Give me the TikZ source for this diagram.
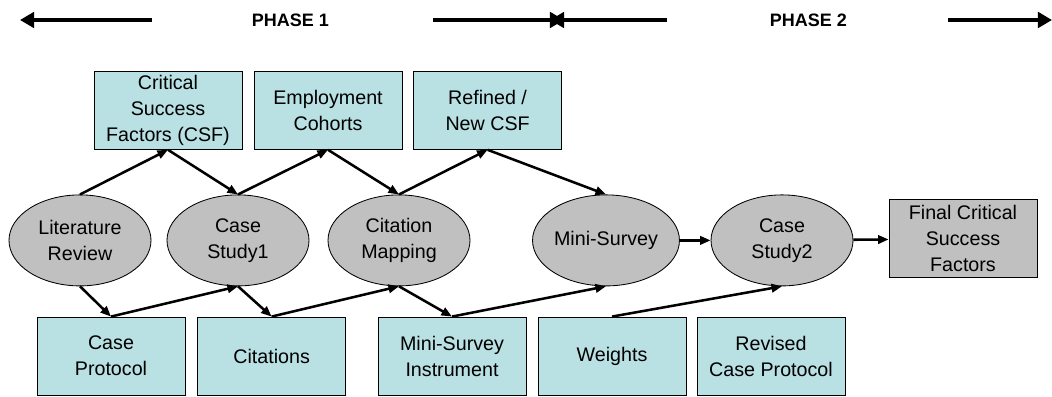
\documentclass[tikz,border=0pt]{standalone}
\usepackage{fontspec}
\setmainfont{Liberation Sans}
\usepackage{tikz}
\usetikzlibrary{shapes.geometric,arrows.meta}

\definecolor{boxblue}{RGB}{185,224,227}
\definecolor{stagegray}{RGB}{192,192,192}

\tikzset{
	inbox/.style={shape=rectangle,draw=black,line width=0.6pt,fill=boxblue,
		minimum width=3.7cm,minimum height=1.95cm,inner sep=1pt,align=center,
		font=\fontsize{14}{18.5}\selectfont},
	stage/.style={shape=ellipse,draw=black,line width=0.6pt,fill=stagegray,
		minimum width=3.55cm,minimum height=2.275cm,inner sep=0pt,align=center,
		font=\fontsize{14}{18.5}\selectfont},
	result/.style={inbox,fill=stagegray},
	flow/.style={-{Triangle[length=7.5pt,width=6pt]},line width=1.8pt},
	phase/.style={-{Triangle[length=10pt,width=11pt]},line width=3.5pt},
	phasetext/.style={font=\fontsize{12.8}{15}\selectfont\bfseries}
}

\begin{document}
\begin{tikzpicture}
	\useasboundingbox (0,0) rectangle (26.3,9.9);

	% phases
	\node[phasetext] (ph1) at (7.26, 9.4)  {PHASE 1};
	\node[phasetext] (ph2) at (20.21, 9.4) {PHASE 2};
	\coordinate (ph1a) at (3.8, 9.4);
	\coordinate (ph1l) at (0.5, 9.4);
	\coordinate (ph1b) at (10.825, 9.4);
	\coordinate (ph1r) at (14.1, 9.4);
	\coordinate (ph2a) at (16.675, 9.4);
	\coordinate (ph2l) at (13.75, 9.4);
	\coordinate (ph2b) at (23.7, 9.4);
	\coordinate (ph2r) at (26.3, 9.4);

	\path[phase] (ph1a) edge (ph1l);
	\path[phase] (ph1b) edge (ph1r);
	\path[phase] (ph2a) edge (ph2l);
	\path[phase] (ph2b) edge (ph2r);

	% outputs above
	\node[inbox] (csf) at (4.2, 7.14)   {Critical\\Success\\Factors (CSF)};
	\node[inbox] (emp) at (8.2, 7.14)   {Employment\\Cohorts};
	\node[inbox] (ref) at (12.19, 7.14) {Refined /\\New CSF};

	% research stages
	\node[stage] (lit) at (2.0, 3.89)   {Literature\\Review};
	\node[stage] (cs1) at (5.95, 3.89)  {Case\\Study1};
	\node[stage] (map) at (9.975, 3.89) {Citation\\Mapping};
	\node[stage] (ms)  at (15.15, 3.89) {Mini-Survey};
	\node[stage] (cs2) at (19.55, 3.89) {Case\\Study2};
	\node[result] (fin) at (24.075, 3.93) {Final Critical\\Success\\Factors};

	% outputs below
	\node[inbox] (cp)  at (2.775, 1.0)  {Case\\Protocol};
	\node[inbox] (cit) at (6.79, 1.0)   {Citations};
	\node[inbox] (msi) at (11.3, 1.0)   {Mini-Survey\\Instrument};
	\node[inbox] (wt)  at (15.3, 1.0)   {Weights};
	\node[inbox] (rcp) at (19.275, 1.0) {Revised\\Case Protocol};

	\path[flow] (lit.north) edge (csf.south);
	\path[flow] (csf.south) edge (cs1.north);
	\path[flow] (cs1.north) edge (emp.south);
	\path[flow] (emp.south) edge (map.north);
	\path[flow] (map.north) edge (ref.south);
	\path[flow] (ref.south) edge (ms.north);
	\path[flow] (ms) edge (cs2);
	\path[flow] (cs2) edge (fin);
	\path[flow] (lit.south) edge (cp.north);
	\path[flow] (cp.north) edge (cs1.south);
	\path[flow] (cs1.south) edge (cit.north);
	\path[flow] (cit.north) edge (map.south);
	\path[flow] (map.south) edge (msi.north);
	\path[flow] (msi.north) edge (ms.south);
	\path[flow] (wt.north) edge (cs2.south);

\end{tikzpicture}
\end{document}
